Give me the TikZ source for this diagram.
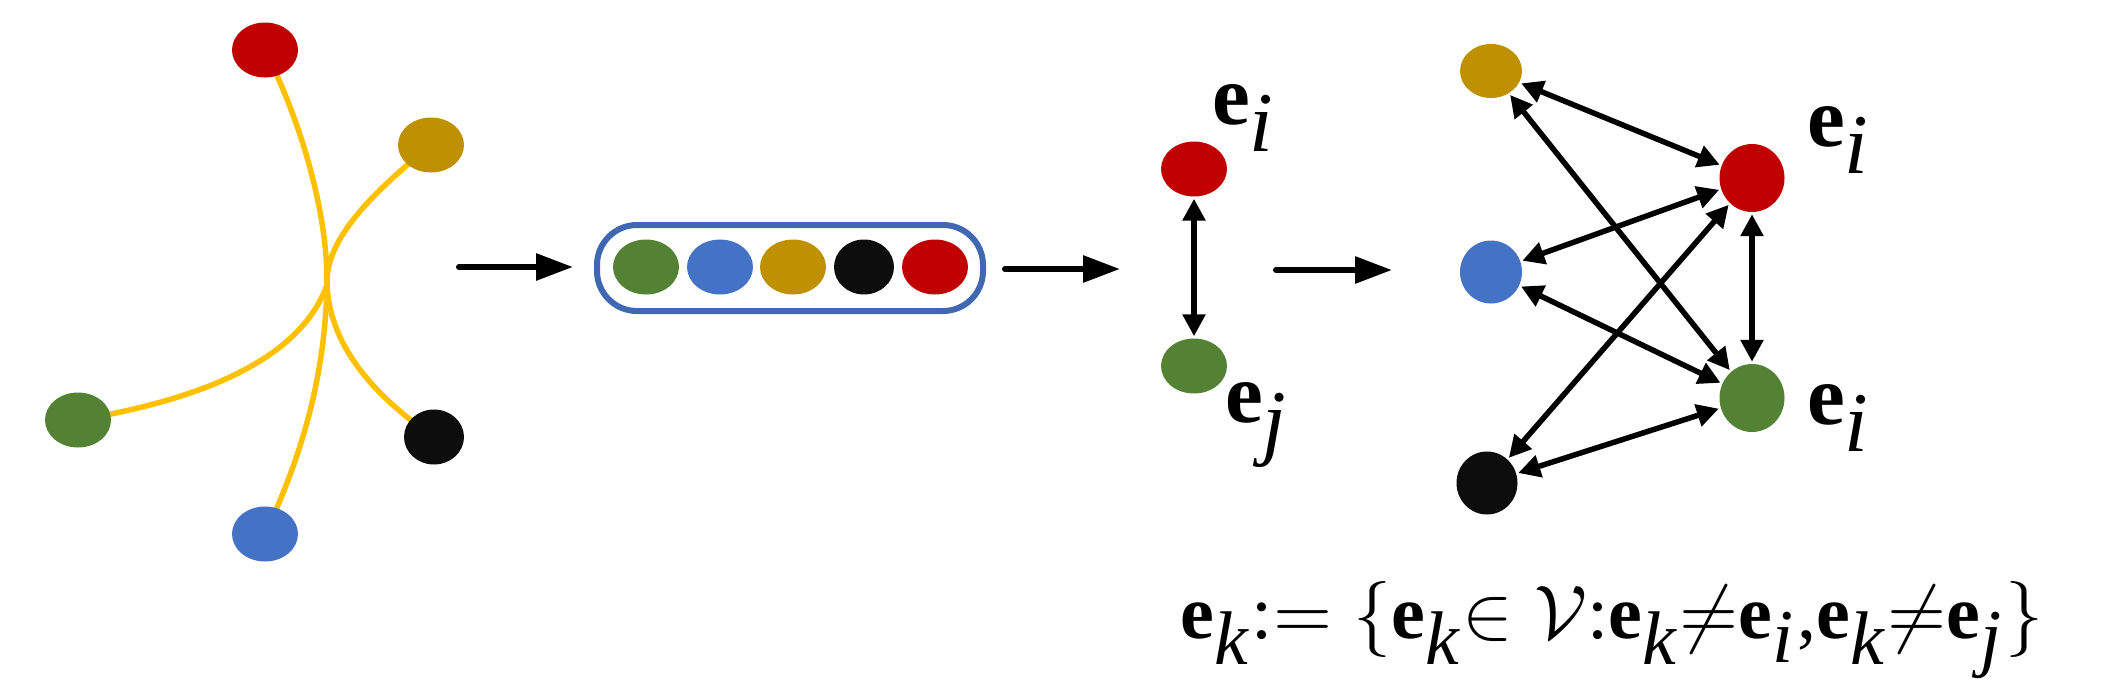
\documentclass[tikz,border=0pt]{standalone}
\usepackage{fontspec}
\setmainfont{Liberation Serif}
\usepackage{tikz}
\usetikzlibrary{shapes.geometric, arrows.meta, positioning}
\definecolor{cred}{HTML}{C00000}
\definecolor{cgold}{HTML}{BF9000}
\definecolor{cgreen}{HTML}{548235}
\definecolor{cblue}{HTML}{4472C4}
\definecolor{cblack}{HTML}{0D0D0D}
\definecolor{cyell}{HTML}{FFC000}
\definecolor{cbox}{HTML}{4068B0}
\newcommand{\bfe}[1]{\textbf{e}$_{#1}$}
\begin{document}
\begin{tikzpicture}[x=1pt, y=-1pt,
  ent/.style={ellipse, draw=none, minimum width=66pt, minimum height=55pt, inner sep=0pt},
  big/.style={ent, minimum width=62pt, minimum height=63pt},
  tree/.style={cyell, line width=5.5pt},
  flow/.style={-{Triangle[length=37pt, width=26pt]}, line width=6pt, line cap=round},
  link/.style={{Triangle[length=22pt, width=22pt]}-{Triangle[length=22pt, width=22pt]}, line width=5.5pt, shorten <=2pt, shorten >=2pt},
  lab/.style={scale=8.5, inner sep=0pt}]
\useasboundingbox (0,0) rectangle (2114,699);
% Baum
\coordinate (hub) at (327,285);
\draw[tree] (265,50) .. controls (305,130) and (328,220) .. (hub) .. controls (325,380) and (300,460) .. (265,534);
\draw[tree] (431,145) .. controls (370,195) and (325,240) .. (hub) .. controls (330,350) and (380,400) .. (434,437);
\draw[tree] (78,420) .. controls (200,400) and (300,360) .. (hub);
\node[ent, fill=cred] (r0) at (265,50) {};
\node[ent, fill=cgold] (g0) at (431,145) {};
\node[ent, fill=cgreen] (n0) at (78,420) {};
\node[ent, fill=cblack, minimum width=60pt] (k0) at (434,437) {};
\node[ent, fill=cblue] (b0) at (265,534) {};
% Folge
\node[draw=cbox, line width=6pt, rounded corners=40pt, minimum width=386pt, minimum height=86pt] (box) at (790,268) {};
\node[ent, fill=cgreen] (n1) at (646,267) {};
\node[ent, fill=cblue] (b1) at (720,267) {};
\node[ent, fill=cgold] (g1) at (793,267) {};
\node[ent, fill=cblack, minimum width=60pt] (k1) at (864,267) {};
\node[ent, fill=cred] (r1) at (935,267) {};
% Paar
\node[ent, fill=cred] (r2) at (1194,169) {};
\node[ent, fill=cgreen] (n2) at (1194,366) {};
\node[lab] (li) at (1245,118) {\bfe{\textit{i}}};
\node[lab] (lj) at (1258,425) {\bfe{\textit{j}}};
% Graph
\node[big, fill=cgold, minimum height=54pt] (g3) at (1491,71) {};
\node[big, fill=cblue] (b3) at (1491,272) {};
\node[big, fill=cblack, minimum width=61pt] (k3) at (1487,483) {};
\node[big, fill=cred, minimum width=65pt, minimum height=68pt] (r3) at (1752,178) {};
\node[big, fill=cgreen, minimum width=65pt, minimum height=68pt] (n3) at (1752,398) {};
\node[lab] (l3a) at (1840,140) {\bfe{\textit{i}}};
\node[lab] (l3b) at (1840,418) {\bfe{\textit{i}}};
% Pfeile
\coordinate (a1s) at (459,267); \coordinate (a1e) at (573,267);
\coordinate (a2s) at (1005,269); \coordinate (a2e) at (1120,269);
\coordinate (a3s) at (1276,270); \coordinate (a3e) at (1392,270);
\draw[flow] (a1s) -- (a1e);
\draw[flow] (a2s) -- (a2e);
\draw[flow] (a3s) -- (a3e);
\draw[link] (r2) -- (n2);
\draw[link] (r3) -- (n3);
\draw[link] (g3) -- (r3);
\draw[link] (g3) -- (n3);
\draw[link] (b3) -- (r3);
\draw[link] (b3) -- (n3);
\draw[link] (k3) -- (r3);
\draw[link] (k3) -- (n3);
% Formel
\node[scale=7.6, inner sep=0pt] (eq) at (1612,630)
  {\bfe{\textit{k}}:$=\{$\bfe{\textit{k}}$\in\mathcal{V}$:\bfe{\textit{k}}$\neq$\bfe{\textit{i}},\bfe{\textit{k}}$\neq$\bfe{\textit{j}}$\}$};
\end{tikzpicture}
\end{document}
